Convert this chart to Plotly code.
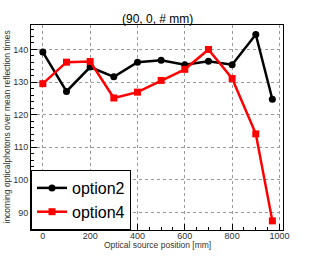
import plotly.graph_objects as go

positions = [0, 100, 200, 300, 400, 500, 600, 700, 800, 900, 970]
option2 = [139.2, 127.1, 134.6, 131.6, 136.1, 136.7, 135.3, 136.4, 135.3, 144.6, 124.7]
option4 = [129.5, 136.1, 136.3, 125.1, 126.9, 130.5, 133.9, 140.0, 131.1, 114.1, 87.4]
x_ticks = [0, 200, 400, 600, 800, 1000]
y_ticks = [90, 100, 110, 120, 130, 140]

fig = go.Figure()
fig.add_trace(go.Scatter(x=positions, y=option2, name="option2", mode="lines+markers",
                         line=dict(color="black", width=2.5),
                         marker=dict(symbol="circle", size=7, color="black")))
fig.add_trace(go.Scatter(x=positions, y=option4, name="option4", mode="lines+markers",
                         line=dict(color="#ff0000", width=2.5),
                         marker=dict(symbol="square", size=7, color="#ff0000")))

font = "Liberation Sans, Arial, sans-serif"
W, H = 315, 256
fig.update_layout(
    width=W, height=H,
    margin=dict(l=31, r=32, t=25, b=26, autoexpand=False),
    paper_bgcolor="white", plot_bgcolor="white",
    font=dict(family=font, color="#333333", size=9),
    showlegend=True,
    legend=dict(x=0, y=0, xanchor="left", yanchor="bottom",
                font=dict(size=16, color="black"),
                bgcolor="white", bordercolor="black", borderwidth=1,
                itemwidth=30, tracegroupgap=0),
    annotations=[
        dict(text="(90, 0, # mm)", xref="paper", yref="paper", x=0.5, y=1 + 6 / 205,
             xanchor="center", yanchor="middle", showarrow=False,
             font=dict(size=12, color="black")),
        dict(text="Optical source position [mm]", xref="paper", yref="paper",
             x=0.5, y=-14.5 / 205, xanchor="center", yanchor="middle", showarrow=False,
             font=dict(size=8.5, color="#333333")),
        dict(text="incoming opticalphotons over mean reflection times", xref="paper",
             yref="paper", x=-25 / 252, y=0.5, xanchor="center", yanchor="middle",
             textangle=-90, showarrow=False, font=dict(size=8.5, color="#333333")),
    ],
)
fig.update_xaxes(range=[-50, 1015], tickvals=x_ticks, ticks="inside", ticklen=6,
                 tickcolor="black", showline=True, linecolor="black", linewidth=1, mirror=True,
                 showgrid=True, gridcolor="#999999", griddash="dot", gridwidth=1, zeroline=False,
                 automargin=False, ticklabelstandoff=-3,
                 minor=dict(dtick=50, ticks="inside", ticklen=3, tickcolor="black", showgrid=False),
                 tickfont=dict(size=9))
fig.update_yaxes(range=[84.6, 147.5], tickvals=y_ticks, ticks="inside", ticklen=6,
                 tickcolor="black", showline=True, linecolor="black", linewidth=1, mirror=True,
                 showgrid=True, gridcolor="#999999", griddash="dot", gridwidth=1, zeroline=False,
                 automargin=False,
                 minor=dict(dtick=2, ticks="inside", ticklen=3, tickcolor="black", showgrid=False),
                 tickfont=dict(size=9))

fig.write_html("out.html", config={"displayModeBar": False},
               post_script="document.body.style.margin='0';")
